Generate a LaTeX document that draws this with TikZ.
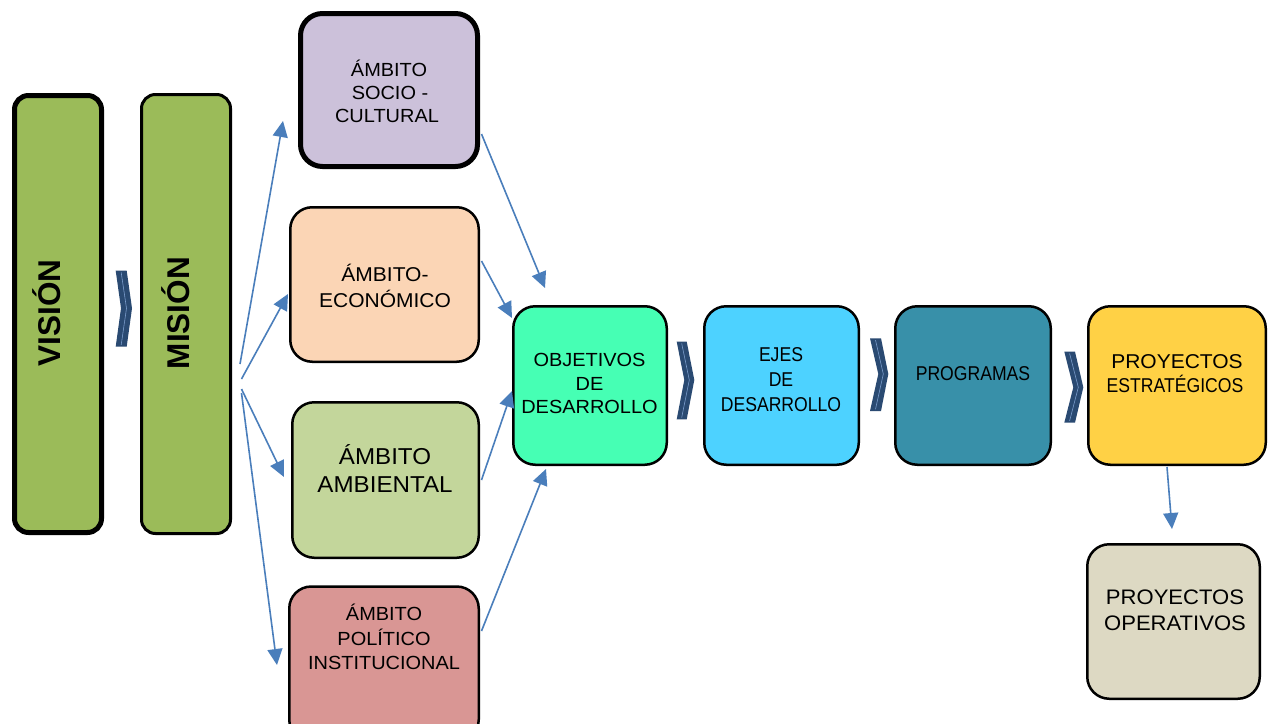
\documentclass[tikz,border=0pt]{standalone}
\usepackage{fontspec}
\setmainfont{Liberation Sans}
\newfontfamily\nfont[FakeStretch=1.05]{Liberation Sans}
\newfontfamily\cfont[FakeStretch=0.88]{Liberation Sans}
\usetikzlibrary{arrows.meta}
\definecolor{vgreen}{HTML}{9BBB59}
\definecolor{socioc}{HTML}{CCC1DA}
\definecolor{econc}{HTML}{FBD5B5}
\definecolor{ambc}{HTML}{C3D69B}
\definecolor{polc}{HTML}{D99694}
\definecolor{objc}{HTML}{46FFB4}
\definecolor{ejesc}{HTML}{4DD2FF}
\definecolor{progc}{HTML}{3890A9}
\definecolor{proyc}{HTML}{FFD145}
\definecolor{operc}{HTML}{DDD9C3}
\definecolor{chevc}{HTML}{2A4A72}
\definecolor{chevl}{HTML}{7A9CCB}
\definecolor{arrowc}{HTML}{4A7EBB}
\begin{document}
\begin{tikzpicture}[x=1pt,y=-1pt,
  box/.style={draw=black, rounded corners=22pt, line width=2.5pt, inner sep=0pt},
  txt/.style={anchor=base, inner sep=0pt, text=black},
  conn/.style={draw=arrowc, line width=1.6pt, -{Triangle[length=16pt,width=15pt]}},
  chev/.style={fill=chevc, draw=none},
  chevline/.style={draw=chevl, line width=0.6pt}]
\useasboundingbox (0,0) rectangle (1269,723);

% vision / mision
\node[box, line width=5pt, rounded corners=14pt, fill=vgreen, minimum width=87pt, minimum height=437pt] (vision) at (58,314) {};
\node[box, line width=3pt, rounded corners=14pt, fill=vgreen, minimum width=89pt, minimum height=439pt] (mision) at (186,314) {};
\node[txt, rotate=90, font=\fontsize{31.5}{31.5}\selectfont\bfseries] (visiontxt) at (60.5,313) {VISIÓN};
\node[txt, rotate=90, font=\fontsize{31.5}{31.5}\selectfont\bfseries] (misiontxt) at (189.5,313) {MISIÓN};

% ambitos
\node[box, line width=5pt, fill=socioc, minimum width=177pt, minimum height=153pt] (socio) at (389,90) {};
\node[box, fill=econc, minimum width=188.5pt, minimum height=154.5pt] (econ) at (384.5,284.5) {};
\node[box, fill=ambc, minimum width=186.5pt, minimum height=155.5pt] (amb) at (385.5,480) {};
\node[box, fill=polc, minimum width=189.5pt, minimum height=155pt] (pol) at (384,664) {};

\node[txt, font=\nfont\fontsize{19}{19}\selectfont] (socioA) at (389,76) {ÁMBITO};
\node[txt, font=\nfont\fontsize{19}{19}\selectfont] (socioB) at (390,99) {SOCIO -};
\node[txt, font=\nfont\fontsize{19}{19}\selectfont] (socioC) at (387,122) {CULTURAL};

\node[txt, font=\nfont\fontsize{20}{20}\selectfont] (econA) at (385,281) {ÁMBITO-};
\node[txt, font=\nfont\fontsize{20}{20}\selectfont] (econB) at (385,307) {ECONÓMICO};

\node[txt, font=\nfont\fontsize{23}{23}\selectfont] (ambA) at (385,464) {ÁMBITO};
\node[txt, font=\nfont\fontsize{23}{23}\selectfont] (ambB) at (385,492) {AMBIENTAL};

\node[txt, font=\nfont\fontsize{19}{19}\selectfont] (polA) at (384,620) {ÁMBITO};
\node[txt, font=\nfont\fontsize{19}{19}\selectfont] (polB) at (384,645) {POLÍTICO};
\node[txt, font=\nfont\fontsize{19}{19}\selectfont] (polC) at (384,669) {INSTITUCIONAL};

% main row
\node[box, fill=objc, minimum width=153.5pt, minimum height=158.5pt] (obj) at (590,385.5) {};
\node[box, fill=ejesc, minimum width=154.5pt, minimum height=158.5pt] (ejes) at (781.5,385.5) {};
\node[box, fill=progc, minimum width=155.5pt, minimum height=158.5pt] (prog) at (973,385.5) {};
\node[box, fill=proyc, minimum width=177.5pt, minimum height=158.5pt] (proy) at (1177,385.5) {};
\node[box, fill=operc, minimum width=172.5pt, minimum height=154.5pt] (oper) at (1173.5,621.5) {};

\node[txt, font=\nfont\fontsize{19}{19}\selectfont] (objA) at (589.5,366) {OBJETIVOS};
\node[txt, font=\nfont\fontsize{19}{19}\selectfont] (objB) at (589.5,390) {DE};
\node[txt, font=\nfont\fontsize{19}{19}\selectfont] (objC) at (589.5,413) {DESARROLLO};

\node[txt, font=\cfont\fontsize{20}{20}\selectfont] (ejesA) at (781,361) {EJES};
\node[txt, font=\cfont\fontsize{20}{20}\selectfont] (ejesB) at (781,386) {DE};
\node[txt, font=\cfont\fontsize{20}{20}\selectfont] (ejesC) at (781,411) {DESARROLLO};

\node[txt, font=\cfont\fontsize{20}{20}\selectfont] (progA) at (973,380) {PROGRAMAS};

\node[txt, font=\nfont\fontsize{20}{20}\selectfont] (proyA) at (1177,368) {PROYECTOS};
\node[txt, font=\cfont\fontsize{20}{20}\selectfont] (proyB) at (1175,392) {ESTRATÉGICOS};

\node[txt, font=\nfont\fontsize{21}{21}\selectfont] (operA) at (1175,604) {PROYECTOS};
\node[txt, font=\nfont\fontsize{21}{21}\selectfont] (operB) at (1175,630) {OPERATIVOS};

% chevrons
\fill[chev] (115.7,270.7) -- (126.7,270.7) -- (132,308.3) -- (126.7,346.7) -- (115.7,346.7) -- (121,308.3) -- cycle;
\draw[chevline] (121.2,272.5) -- (126.5,308.3) -- (121.2,344.9);
\fill[chev] (676.7,341.7) -- (686.7,341.7) -- (694.3,380) -- (686.7,419.3) -- (676.7,419.3) -- (684.3,380) -- cycle;
\draw[chevline] (681.7,343.5) -- (689.3,380) -- (681.7,417.5);
\fill[chev] (870,338.3) -- (881,338.3) -- (888.3,374) -- (881,411) -- (870,411) -- (878.3,374) -- cycle;
\draw[chevline] (875.5,340.1) -- (883.3,374) -- (875.5,409.2);
\fill[chev] (1064.3,351.7) -- (1075,351.7) -- (1083.3,387.3) -- (1075,422.7) -- (1064.3,422.7) -- (1073.3,387.3) -- cycle;
\draw[chevline] (1069.6,353.5) -- (1078.3,387.3) -- (1069.6,420.9);

% connector end points
\coordinate (f1s) at (240,364);
\coordinate (f1e) at (283,121);
\coordinate (f2s) at (241.5,379);
\coordinate (f2e) at (288,294);
\coordinate (f3s) at (241.5,389);
\coordinate (f3e) at (284,477);
\coordinate (f4s) at (241.5,393);
\coordinate (f4e) at (277,665);
\coordinate (s1) at (481.5,134);
\coordinate (o1) at (545,288);
\coordinate (s2) at (481.5,261);
\coordinate (o2) at (512,318);
\coordinate (s3) at (481.5,480);
\coordinate (o3) at (512,391);
\coordinate (s4) at (481.5,631);
\coordinate (o4) at (546,469);
\coordinate (p1) at (1167,467);
\coordinate (p2) at (1172,529);

\draw[conn] (f1s) -- (f1e);
\draw[conn] (f2s) -- (f2e);
\draw[conn] (f3s) -- (f3e);
\draw[conn] (f4s) -- (f4e);
\draw[conn] (s1) -- (o1);
\draw[conn] (s2) -- (o2);
\draw[conn] (s3) -- (o3);
\draw[conn] (s4) -- (o4);
\draw[conn] (p1) -- (p2);
\end{tikzpicture}
\end{document}
